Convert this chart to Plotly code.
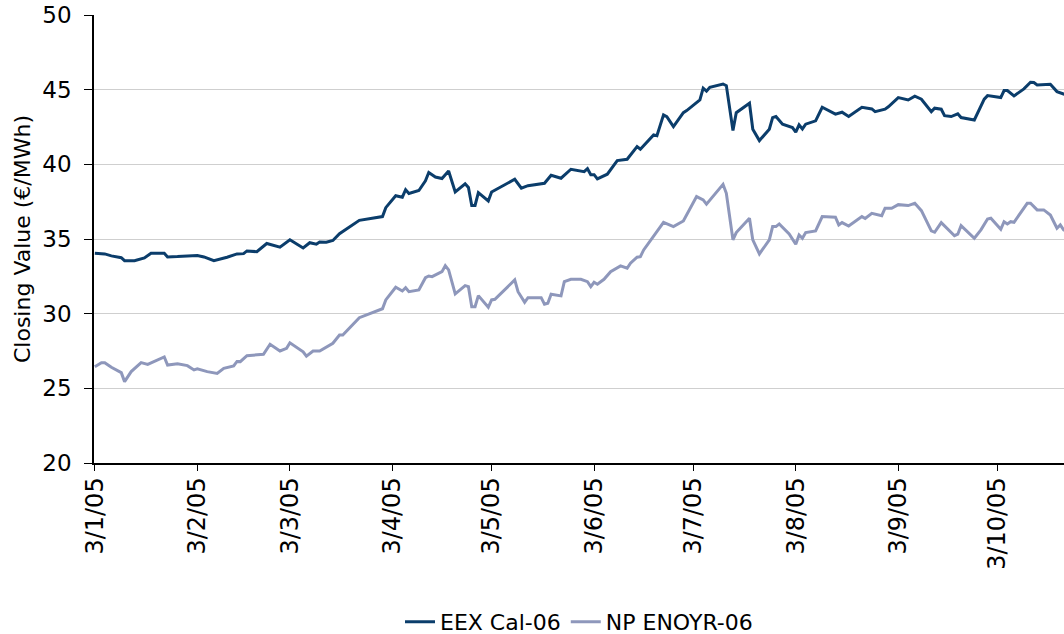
import plotly.graph_objects as go

# EEX Cal-06 (closing value, EUR/MWh)
eex_dates = [
    "2005-01-03", "2005-01-06", "2005-01-08", "2005-01-11", "2005-01-12", "2005-01-15",
    "2005-01-18", "2005-01-20", "2005-01-24", "2005-01-25", "2005-01-28", "2005-02-03",
    "2005-02-05", "2005-02-08", "2005-02-12", "2005-02-15", "2005-02-17", "2005-02-18",
    "2005-02-21", "2005-02-24", "2005-02-28", "2005-03-03", "2005-03-07", "2005-03-09",
    "2005-03-11", "2005-03-12", "2005-03-14", "2005-03-16", "2005-03-18", "2005-03-21",
    "2005-03-24", "2005-03-31", "2005-04-01", "2005-04-04", "2005-04-06", "2005-04-07",
    "2005-04-08", "2005-04-11", "2005-04-13", "2005-04-14", "2005-04-16", "2005-04-18",
    "2005-04-20", "2005-04-22", "2005-04-25", "2005-04-26", "2005-04-27", "2005-04-28",
    "2005-04-29", "2005-05-02", "2005-05-03", "2005-05-10", "2005-05-12", "2005-05-14",
    "2005-05-19", "2005-05-21", "2005-05-24", "2005-05-27", "2005-05-31", "2005-06-01",
    "2005-06-02", "2005-06-03", "2005-06-04", "2005-06-07", "2005-06-10", "2005-06-13",
    "2005-06-14", "2005-06-16", "2005-06-17", "2005-06-19", "2005-06-21", "2005-06-22",
    "2005-06-24", "2005-06-25", "2005-06-27", "2005-06-30", "2005-07-01", "2005-07-05",
    "2005-07-06", "2005-07-07", "2005-07-08", "2005-07-12", "2005-07-13", "2005-07-15",
    "2005-07-16", "2005-07-20", "2005-07-21", "2005-07-23", "2005-07-26", "2005-07-27",
    "2005-07-28", "2005-07-30", "2005-08-02", "2005-08-03", "2005-08-04", "2005-08-05",
    "2005-08-06", "2005-08-09", "2005-08-11", "2005-08-15", "2005-08-17", "2005-08-19",
    "2005-08-23", "2005-08-26", "2005-08-27", "2005-08-30", "2005-08-31", "2005-09-03",
    "2005-09-06", "2005-09-08", "2005-09-10", "2005-09-13", "2005-09-14", "2005-09-16",
    "2005-09-17", "2005-09-19", "2005-09-21", "2005-09-22", "2005-09-26", "2005-09-29",
    "2005-09-30", "2005-10-04", "2005-10-05", "2005-10-06", "2005-10-08", "2005-10-11",
    "2005-10-13", "2005-10-14", "2005-10-15", "2005-10-19", "2005-10-21", "2005-10-23",
    "2005-10-24",
]
eex_values = [
    34.05, 34.00, 33.87, 33.75, 33.55, 33.55,
    33.73, 34.05, 34.05, 33.80, 33.82, 33.90,
    33.80, 33.55, 33.78, 34.00, 34.02, 34.20,
    34.15, 34.70, 34.45, 34.95, 34.40, 34.75,
    34.65, 34.80, 34.78, 34.90, 35.35, 35.80,
    36.25, 36.50, 37.10, 37.90, 37.80, 38.30,
    38.05, 38.25, 38.90, 39.45, 39.15, 39.05,
    39.55, 38.15, 38.70, 38.45, 37.25, 37.25,
    38.10, 37.55, 38.15, 39.00, 38.40, 38.57,
    38.73, 39.27, 39.07, 39.67, 39.51, 39.71,
    39.31, 39.31, 39.02, 39.34, 40.25, 40.34,
    40.63, 41.19, 41.01, 41.52, 41.97, 41.92,
    43.31, 43.20, 42.53, 43.46, 43.60, 44.31,
    45.10, 44.90, 45.16, 45.38, 45.27, 42.26,
    43.46, 44.09, 42.35, 41.59, 42.35, 43.13,
    43.20, 42.69, 42.46, 42.15, 42.64, 42.37,
    42.69, 42.91, 43.82, 43.36, 43.49, 43.20,
    43.82, 43.71, 43.53, 43.69, 43.85, 44.47,
    44.31, 44.56, 44.36, 43.53, 43.76, 43.69,
    43.26, 43.20, 43.38, 43.13, 42.97, 44.36,
    44.60, 44.47, 44.94, 44.94, 44.58, 45.05,
    45.50, 45.48, 45.32, 45.36, 44.87, 44.71,
    44.65,
]

# NP ENOYR-06 (closing value, EUR/MWh)
np_dates = [
    "2005-01-03", "2005-01-05", "2005-01-06", "2005-01-08", "2005-01-11", "2005-01-12",
    "2005-01-14", "2005-01-17", "2005-01-19", "2005-01-24", "2005-01-25", "2005-01-28",
    "2005-01-31", "2005-02-02", "2005-02-03", "2005-02-06", "2005-02-09", "2005-02-11",
    "2005-02-14", "2005-02-15", "2005-02-16", "2005-02-18", "2005-02-23", "2005-02-25",
    "2005-02-28", "2005-03-02", "2005-03-03", "2005-03-07", "2005-03-08", "2005-03-10",
    "2005-03-12", "2005-03-16", "2005-03-18", "2005-03-19", "2005-03-24", "2005-03-31",
    "2005-04-01", "2005-04-04", "2005-04-06", "2005-04-07", "2005-04-08", "2005-04-11",
    "2005-04-13", "2005-04-14", "2005-04-15", "2005-04-18", "2005-04-19", "2005-04-20",
    "2005-04-22", "2005-04-25", "2005-04-26", "2005-04-27", "2005-04-28", "2005-04-29",
    "2005-05-02", "2005-05-03", "2005-05-04", "2005-05-10", "2005-05-11", "2005-05-13",
    "2005-05-14", "2005-05-18", "2005-05-19", "2005-05-20", "2005-05-21", "2005-05-24",
    "2005-05-25", "2005-05-27", "2005-05-30", "2005-06-01", "2005-06-02", "2005-06-03",
    "2005-06-04", "2005-06-06", "2005-06-08", "2005-06-09", "2005-06-11", "2005-06-13",
    "2005-06-14", "2005-06-16", "2005-06-17", "2005-06-18", "2005-06-21", "2005-06-24",
    "2005-06-27", "2005-06-30", "2005-07-04", "2005-07-06", "2005-07-07", "2005-07-09",
    "2005-07-11", "2005-07-12", "2005-07-13", "2005-07-15", "2005-07-16", "2005-07-20",
    "2005-07-21", "2005-07-23", "2005-07-26", "2005-07-27", "2005-07-28", "2005-07-29",
    "2005-08-01", "2005-08-03", "2005-08-04", "2005-08-05", "2005-08-06", "2005-08-09",
    "2005-08-11", "2005-08-15", "2005-08-16", "2005-08-17", "2005-08-19", "2005-08-23",
    "2005-08-24", "2005-08-26", "2005-08-29", "2005-08-30", "2005-09-01", "2005-09-03",
    "2005-09-06", "2005-09-08", "2005-09-10", "2005-09-13", "2005-09-14", "2005-09-16",
    "2005-09-20", "2005-09-21", "2005-09-22", "2005-09-24", "2005-09-26", "2005-09-28",
    "2005-09-30", "2005-10-01", "2005-10-04", "2005-10-05", "2005-10-06", "2005-10-07",
    "2005-10-08", "2005-10-12", "2005-10-13", "2005-10-15", "2005-10-17", "2005-10-19",
    "2005-10-21", "2005-10-22", "2005-10-23", "2005-10-24",
]
np_values = [
    26.45, 26.72, 26.72, 26.41, 26.05, 25.45,
    26.12, 26.72, 26.60, 27.10, 26.56, 26.65,
    26.52, 26.23, 26.30, 26.12, 26.00, 26.34,
    26.50, 26.80, 26.79, 27.19, 27.28, 27.95,
    27.50, 27.68, 28.05, 27.45, 27.15, 27.50,
    27.50, 28.02, 28.57, 28.57, 29.73, 30.33,
    30.92, 31.77, 31.52, 31.74, 31.47, 31.59,
    32.41, 32.52, 32.48, 32.81, 33.21, 32.93,
    31.32, 31.88, 31.81, 30.47, 30.47, 31.21,
    30.43, 30.92, 30.96, 32.26, 31.47, 30.76,
    31.07, 31.07, 30.63, 30.70, 31.30, 31.19,
    32.14, 32.30, 32.30, 32.14, 31.81, 32.10,
    31.97, 32.30, 32.81, 32.93, 33.20, 33.04,
    33.38, 33.78, 33.82, 34.27, 35.22, 36.12,
    35.83, 36.21, 37.84, 37.62, 37.33, 37.84,
    38.33, 38.66, 38.06, 34.94, 35.43, 36.39,
    34.94, 34.00, 34.94, 35.83, 35.83, 36.01,
    35.34, 34.65, 35.27, 35.05, 35.43, 35.54,
    36.50, 36.46, 35.94, 36.10, 35.87, 36.50,
    36.37, 36.72, 36.56, 37.06, 37.06, 37.30,
    37.24, 37.39, 36.90, 35.54, 35.45, 36.10,
    35.22, 35.32, 35.90, 35.45, 35.05, 35.61,
    36.34, 36.39, 35.65, 36.16, 36.01, 36.16,
    36.12, 37.39, 37.39, 36.95, 36.95, 36.61,
    35.72, 35.94, 35.61, 35.50,
]

tick_dates = ["2005-01-03", "2005-02-03", "2005-03-03", "2005-04-03", "2005-05-03",
              "2005-06-03", "2005-07-03", "2005-08-03", "2005-09-03", "2005-10-03"]
tick_labels = ["3/1/05", "3/2/05", "3/3/05", "3/4/05", "3/5/05",
               "3/6/05", "3/7/05", "3/8/05", "3/9/05", "3/10/05"]
y_ticks = [20, 25, 30, 35, 40, 45, 50]

FONT = "DejaVu Sans"

fig = go.Figure()
fig.add_trace(go.Scatter(x=eex_dates, y=eex_values, mode="lines", name="EEX Cal-06",
                         line=dict(color="#0b3d6b", width=3)))
fig.add_trace(go.Scatter(x=np_dates, y=np_values, mode="lines", name="NP ENOYR-06",
                         line=dict(color="#8e97bb", width=3)))

fig.update_layout(
    width=1064, height=634,
    margin=dict(l=94, r=0, t=15, b=171, autoexpand=False),
    paper_bgcolor="white", plot_bgcolor="white",
    font=dict(family=FONT, color="black", size=20),
    showlegend=True,
    legend=dict(orientation="h", x=0.5, xanchor="center",
                yref="container", y=0.019, yanchor="middle",
                font=dict(family=FONT, size=22, color="black"),
                itemwidth=30, tracegroupgap=0),
    xaxis=dict(
        type="date", automargin=False,
        range=["2005-01-02 18:00", "2005-10-23 03:00"],
        tickmode="array", tickvals=tick_dates, ticktext=tick_labels,
        tickangle=-90, ticks="outside", ticklen=6, tickcolor="black", tickwidth=1,
        showline=True, linecolor="black", linewidth=1.5,
        showgrid=False, zeroline=False,
        ticklabelstandoff=-3,
        tickfont=dict(family=FONT, size=24, color="black"),
    ),
    yaxis=dict(
        range=[20, 50], tickmode="array", tickvals=y_ticks, automargin=False,
        ticks="outside", ticklen=8, tickcolor="black", tickwidth=1,
        showline=True, linecolor="black", linewidth=1.5,
        showgrid=True, gridcolor="#cfcfcf", gridwidth=1,
        zeroline=False,
        tickfont=dict(family=FONT, size=23, color="black"),
        ticklabelstandoff=8,
        title=dict(text="Closing Value (€/MWh)", standoff=6,
                   font=dict(family=FONT, size=22, color="black")),
    ),
)

fig.write_html("out.html", config={"displayModeBar": False},
               post_script="document.body.style.margin='0';document.body.style.overflow='hidden';")
